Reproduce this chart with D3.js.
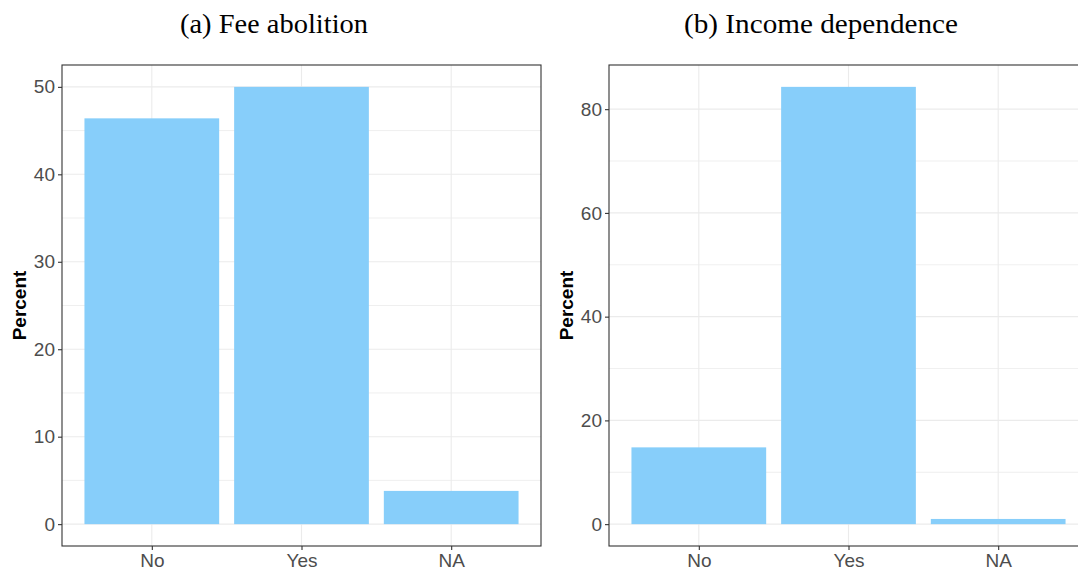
<!DOCTYPE html>
<html><head><meta charset="utf-8">
<script src="https://cdn.jsdelivr.net/npm/d3@7"></script>
<style>body{margin:0;background:#fff;overflow:hidden}</style>
</head><body>
<svg id="c" width="1078" height="571"></svg>
<script>
const categories = ["No", "Yes", "NA"];
const feeValues = [46.4, 50.0, 3.8];
const incomeValues = [14.8, 84.3, 1.0];
const feeTicks = [0, 10, 20, 30, 40, 50];
const incomeTicks = [0, 20, 40, 60, 80];
const titles = ["(a) Fee abolition", "(b) Income dependence"];

const svg = d3.select("#c");
const panels = [
  {values: feeValues, ticks: feeTicks, minor: [5,15,25,35,45], title: titles[0], left: 62, titleX: 274, titleW: 188},
  {values: incomeValues, ticks: incomeTicks, minor: [10,30,50,70], title: titles[1], left: 609, titleX: 821, titleW: 274}
];
const pTop = 65, pBottom = 546, pw = 479;

panels.forEach(p => {
  const g = svg.append("g");
  const maxV = d3.max(p.values);
  const y = d3.scaleLinear().domain([-0.05*maxV, 1.05*maxV]).range([pBottom, pTop]);
  // ggplot discrete: expand 0.6 units, width 0.9
  const unit = pw/3.2;
  const cx = d => p.left + (0.6 + categories.indexOf(d))*unit;
  const bw = 0.9*unit;

  // grid
  g.selectAll(".mn").data(p.minor).enter().append("line")
    .attr("x1", p.left).attr("x2", p.left+pw).attr("y1", d=>y(d)).attr("y2", d=>y(d))
    .attr("stroke", "#ebebeb").attr("stroke-width", 0.8);
  g.selectAll(".mj").data(p.ticks).enter().append("line")
    .attr("x1", p.left).attr("x2", p.left+pw).attr("y1", d=>y(d)).attr("y2", d=>y(d))
    .attr("stroke", "#ebebeb").attr("stroke-width", 1.1);
  g.selectAll(".vx").data(categories).enter().append("line")
    .attr("x1", d=>cx(d)).attr("x2", d=>cx(d)).attr("y1", pTop).attr("y2", pBottom)
    .attr("stroke", "#ebebeb").attr("stroke-width", 1.1);

  // bars
  g.selectAll(".bar").data(categories).enter().append("rect")
    .attr("x", d=>cx(d)-bw/2).attr("width", bw)
    .attr("y", (d,i)=>y(p.values[i])).attr("height", (d,i)=>y(0)-y(p.values[i]))
    .attr("fill", "#87CEFA");

  // border
  g.append("rect").attr("x", p.left).attr("y", pTop).attr("width", pw).attr("height", pBottom-pTop)
    .attr("fill", "none").attr("stroke", "#333333").attr("stroke-width", 1.1);

  // y axis
  const ya = g.append("g").attr("transform", `translate(${p.left},0)`)
    .call(d3.axisLeft(y).tickValues(p.ticks).tickSize(4).tickPadding(3));
  ya.select(".domain").remove();
  ya.selectAll("line").attr("stroke", "#333333").attr("stroke-width", 1.1);
  ya.selectAll("text").attr("fill", "#4d4d4d").style("font-family", "Liberation Sans, Arial, sans-serif").style("font-size", "19px");

  // x axis
  const xs = d3.scalePoint().domain(categories).range([cx(categories[0]), cx(categories[2])]);
  const xa = g.append("g").attr("transform", `translate(0,${pBottom})`)
    .call(d3.axisBottom(xs).tickSize(4).tickPadding(4));
  xa.select(".domain").remove();
  xa.selectAll("line").attr("stroke", "#333333").attr("stroke-width", 1.1);
  xa.selectAll("text").attr("fill", "#4d4d4d").style("font-family", "Liberation Sans, Arial, sans-serif").style("font-size", "19px");

  // y title
  g.append("text").attr("transform", `translate(${p.left-36},${(pTop+pBottom)/2}) rotate(-90)`)
    .attr("text-anchor", "middle").style("font-family", "Liberation Sans, Arial, sans-serif")
    .style("font-size", "19px").style("font-weight", "bold").attr("fill", "#000").text("Percent");

  // title
  g.append("text").attr("x", p.titleX).attr("y", 33).attr("text-anchor", "middle")
    .attr("textLength", p.titleW).attr("lengthAdjust", "spacingAndGlyphs")
    .style("font-family", "Liberation Serif, serif").style("font-size", "27px").attr("fill", "#000")
    .text(p.title);
});
</script>
</body></html>
